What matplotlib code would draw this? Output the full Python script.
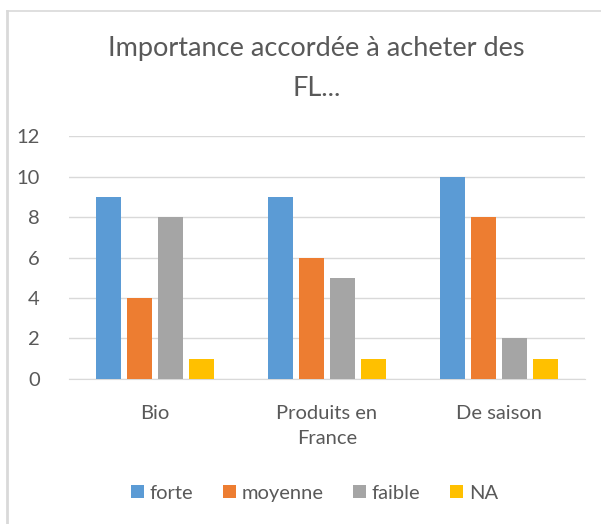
import matplotlib.pyplot as plt
import numpy as np
from matplotlib.lines import Line2D

plt.rcParams['font.family'] = ['Lato', 'DejaVu Sans']

categories = ['Bio', 'Produits en\nFrance', 'De saison']
series = ['forte', 'moyenne', 'faible', 'NA']
forte = [9, 9, 10]
moyenne = [4, 6, 8]
faible = [8, 5, 2]
na = [1, 1, 1]
colors = ['#5B9BD5', '#ED7D31', '#A5A5A5', '#FFC000']

fig = plt.figure(figsize=(6.01, 5.24), dpi=100)
ax = fig.add_axes([0.115, 0.277, 0.858, 0.463])

x = np.arange(len(categories))
step = 0.18
width = 0.145
for i, (name, vals) in enumerate(zip(series, [forte, moyenne, faible, na])):
    ax.bar(x + (i - 1.5) * step, vals, width, color=colors[i], label=name, zorder=3)

ax.set_xlim(-0.5, 2.5)
ax.set_ylim(0, 12)
ax.set_yticks(range(0, 13, 2))
ax.set_xticks(x)
ax.set_xticklabels(categories)
ax.grid(axis='y', color='#D9D9D9', linewidth=1, zorder=0)
for s in ['top', 'right', 'left']:
    ax.spines[s].set_visible(False)
ax.spines['bottom'].set_color('#D9D9D9')
ax.tick_params(axis='both', length=0, labelsize=14.5, colors='#595959')
ax.tick_params(axis='x', pad=19)
ax.tick_params(axis='y', pad=21)
for lbl in ax.get_xticklabels():
    lbl.set_linespacing(1.55)

fig.text(0.527, 0.908, 'Importance accordée à acheter des', ha='center', va='center',
         fontsize=19.5, color='#595959')
fig.text(0.527, 0.832, 'FL...', ha='center', va='center', fontsize=19.5, color='#595959')

fig.legend(loc='center', bbox_to_anchor=(0.523, 0.059), ncol=4, frameon=False,
           fontsize=14.5, labelcolor='#595959', handlelength=0.65, handleheight=0.65,
           handletextpad=0.3, columnspacing=1.45)

# chart frame: only top and left edges are visible in the crop
fig.lines.append(Line2D([0.011, 1.0], [0.979, 0.979], transform=fig.transFigure,
                        color='#D9D9D9', linewidth=1.2))
fig.lines.append(Line2D([0.012, 0.012], [0.0, 0.979], transform=fig.transFigure,
                        color='#D9D9D9', linewidth=2))

plt.savefig('out.png', dpi=100)
